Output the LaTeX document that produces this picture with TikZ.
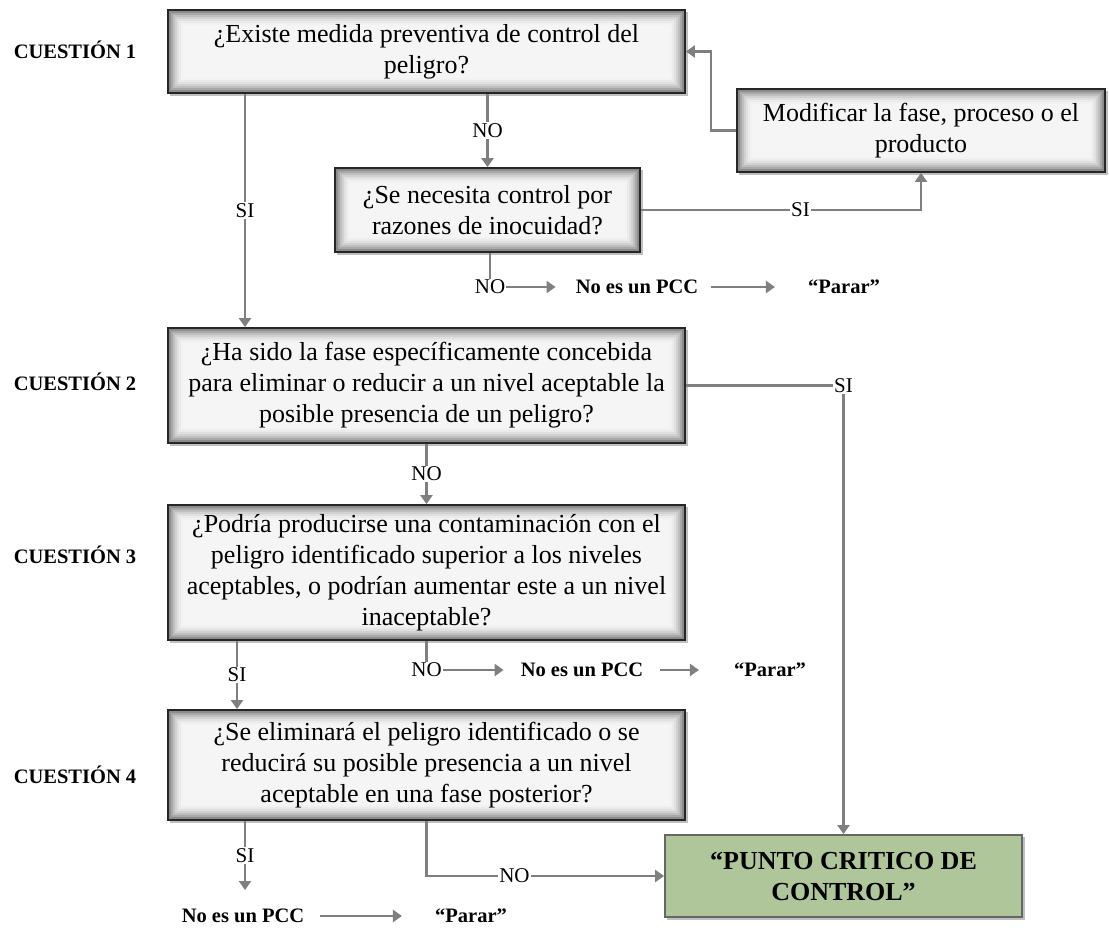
\documentclass[tikz,border=0pt]{standalone}
\usepackage{fontspec}
\setmainfont{Liberation Serif}
\usetikzlibrary{arrows.meta,backgrounds}

\definecolor{gris}{HTML}{7F7F7F}
\definecolor{verdepcc}{HTML}{AFC59A}

\begin{document}
\begin{tikzpicture}[x=1pt, y=-1pt,
    pregunta/.style={draw=black!85, line width=1.8pt, align=center, inner sep=0pt,
        font=\fontsize{26}{31}\selectfont},
    final/.style={draw=black!60, line width=1.8pt, fill=verdepcc, align=center, inner sep=0pt,
        font=\fontsize{26}{31}\selectfont\bfseries},
    cuestion/.style={font=\fontsize{20.5}{24}\selectfont\bfseries},
    resp/.style={font=\fontsize{21}{24}\selectfont, fill=white, inner sep=1pt},
    nota/.style={font=\fontsize{20.5}{24}\selectfont\bfseries, inner sep=0pt},
    linea/.style={draw=gris, line width=2.6pt},
    flecha/.style={linea, -{Triangle[width=12pt,length=9pt]}}]

    \useasboundingbox (0,0) rectangle (1109,928);

    % #1 = nombre de la caja: sombra exterior y degradado interior
    \newcommand{\sombrear}[1]{%
        \fill[black!25] ([xshift=2.5pt,yshift=-2.5pt]#1.north west) rectangle ([xshift=2.5pt,yshift=-2.5pt]#1.south east);
        \foreach \paso/\tono in {0/58,2/45,4/34,6/25,8/18,10/12,12/8,14/5,16/4}
            \fill[black!\tono] ([xshift=\paso pt,yshift=-\paso pt]#1.north west)
                rectangle ([xshift=-\paso pt,yshift=\paso pt]#1.south east);}

    % cuestiones
    \node[cuestion] (c1) at (75,50) {CUESTIÓN 1};
    \node[cuestion] (c2) at (75,382) {CUESTIÓN 2};
    \node[cuestion] (c3) at (75,555) {CUESTIÓN 3};
    \node[cuestion] (c4) at (75,775) {CUESTIÓN 4};

    % cajas
    \node[pregunta, minimum width=517pt, minimum height=83pt] (q1) at (426.5,51.5)
        {¿Existe medida preventiva de control del\\peligro?};
    \node[pregunta, minimum width=368pt, minimum height=83pt] (mod) at (921,130.5)
        {Modificar la fase, proceso o el\\producto};
    \node[pregunta, minimum width=305pt, minimum height=84pt] (q1b) at (487.5,210)
        {¿Se necesita control por\\razones de inocuidad?};
    \node[pregunta, minimum width=517pt, minimum height=115pt] (q2) at (426.5,385.5)
        {¿Ha sido la fase específicamente concebida\\para eliminar o reducir a un nivel aceptable la\\posible presencia de un peligro?};
    \node[pregunta, minimum width=517pt, minimum height=135pt] (q3) at (426.5,572.5)
        {¿Podría producirse una contaminación con el\\peligro identificado superior a los niveles\\aceptables, o podrían aumentar este a un nivel\\inaceptable?};
    \node[pregunta, minimum width=517pt, minimum height=110pt] (q4) at (426.5,765)
        {¿Se eliminará el peligro identificado o se\\reducirá su posible presencia a un nivel\\aceptable en una fase posterior?};
    \node[final, minimum width=357pt, minimum height=82pt] (pcc) at (843.5,876)
        {“PUNTO CRITICO DE\\CONTROL”};

    \begin{scope}[on background layer]
        \foreach \caja in {q1,mod,q1b,q2,q3,q4}{\sombrear{\caja}}
        \fill[black!25] ([xshift=2.5pt,yshift=-2.5pt]pcc.north west) rectangle ([xshift=2.5pt,yshift=-2.5pt]pcc.south east);
    \end{scope}

    % salidas "No es un PCC"
    \node[resp] (no1) at (490,287) {NO};
    \node[nota] (npcc1) at (637,287) {No es un PCC};
    \node[nota] (parar1) at (844,287) {“Parar”};
    \node[resp] (no2) at (426.5,670) {NO};
    \node[nota] (npcc2) at (582,670) {No es un PCC};
    \node[nota] (parar2) at (770,670) {“Parar”};
    \node[nota] (npcc3) at (243,916) {No es un PCC};
    \node[nota] (parar3) at (471,916) {“Parar”};
    \coordinate (fin4) at (245,890);

    % conectores
    \draw[flecha] ([xshift=-181.5pt]q1.south) -- node[resp]{SI} ([xshift=-181.5pt]q2.north);
    \draw[flecha] (q1.south -| q1b.north) -- node[resp]{NO} (q1b.north);
    \draw[flecha] (q1b.east) -| node[resp, pos=0.285]{SI} (mod.south);
    \draw[flecha] (mod.west) -- ++(-25,0) |- (q1.east);
    \draw[linea] (q1b.south -| no1.north) -- (no1.north);
    \draw[flecha] (no1.east) -- ([xshift=-20pt]npcc1.west);
    \draw[flecha] ([xshift=13pt]npcc1.east) -- ([xshift=-33pt]parar1.west);

    \draw[flecha] (q2.east) -| node[resp, pos=0.5]{SI} (pcc.north);
    \draw[flecha] (q2.south) -- node[resp]{NO} (q3.north);

    \draw[flecha] ([xshift=-189.5pt]q3.south) -- node[resp]{SI} ([xshift=-189.5pt]q4.north);
    \draw[linea] (q3.south) -- (no2.north);
    \draw[flecha] (no2.east) -- ([xshift=-17pt]npcc2.west);
    \draw[flecha] ([xshift=17pt]npcc2.east) -- ([xshift=-35pt]parar2.west);

    \draw[flecha] (q4.south -| fin4) -- node[resp]{SI} (fin4);
    \draw[flecha] ([xshift=16pt]npcc3.east) -- ([xshift=-33pt]parar3.west);
    \draw[flecha] (q4.south) |- node[resp, pos=0.685]{NO} (pcc.west);

\end{tikzpicture}
\end{document}
